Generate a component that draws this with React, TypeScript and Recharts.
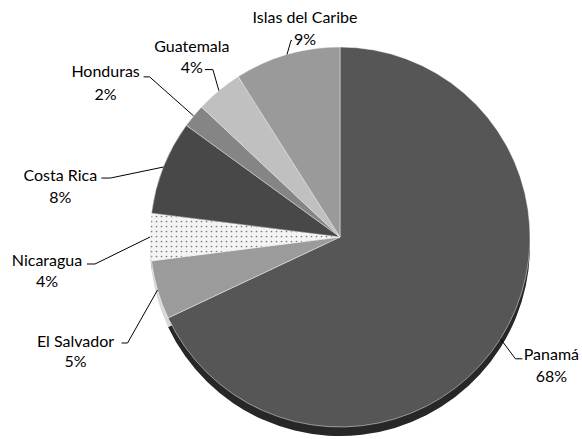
import React from 'react'
import { PieChart, Pie, Cell } from 'recharts'

// values (percent of total)
const countries = [
  'Panamá',
  'El Salvador',
  'Nicaragua',
  'Costa Rica',
  'Honduras',
  'Guatemala',
  'Islas del Caribe'
]
const shares = [68, 5, 4, 8, 2, 4, 9]

const fills = [
  '#565656',
  '#9b9b9b',
  'url(#dots)',
  '#484848',
  '#858585',
  '#c0c0c0',
  '#9a9a9a'
]
const sideFills = ['#272727', '#d8d8d8', '#bdbdbd', '#2a2a2a', '#555', '#888', '#666']

// leader line layout: elbow offset from slice edge, tail length, text offsets
const labelLayout: Record<string, { ex: number; ey: number; tl: number; tx: number; ny: number; py: number }> = {
  'Panamá': { ex: 15, ey: 20, tl: 7, tx: 29, ny: -5, py: 17 },
  'El Salvador': { ex: -30, ey: 53, tl: -6, tx: -46, ny: -3, py: 17 },
  'Nicaragua': { ex: -55, ey: 27, tl: -8, tx: -40, ny: -5, py: 16 },
  'Costa Rica': { ex: -53, ey: 11, tl: -9, tx: -41, ny: -4, py: 18 },
  'Honduras': { ex: -44, ey: -39, tl: -6, tx: -38, ny: -6, py: 17 },
  'Guatemala': { ex: -6, ey: -21, tl: -8, tx: -13, ny: -24, py: -3 },
  'Islas del Caribe': { ex: 4, ey: -14, tl: 1, tx: 13, ny: -24, py: -2 }
}

const data = countries.map((name, i) => ({ name, value: shares[i] }))

const RADIAN = Math.PI / 180
const FONT = 'Lato, "Open Sans", sans-serif'

const renderLabel = (props: any) => {
  const { cx, cy, midAngle, outerRadius, name, value } = props
  const lay = labelLayout[name]
  if (!lay) return null
  const sx = cx + outerRadius * Math.cos(-midAngle * RADIAN)
  const sy = cy + outerRadius * Math.sin(-midAngle * RADIAN)
  const mx = sx + lay.ex
  const my = sy + lay.ey
  const tx = mx + lay.tl
  return (
    <g>
      <polyline
        points={`${sx},${sy} ${mx},${my} ${tx},${my}`}
        fill='none'
        stroke='#000'
        strokeWidth={1}
      />
      <text
        x={tx + lay.tx}
        y={my + lay.ny}
        textAnchor='middle'
        dominantBaseline='central'
        fontFamily={FONT}
        fontSize={16}
        fill='#000'
      >
        {name}
      </text>
      <text
        x={tx + lay.tx}
        y={my + lay.py}
        textAnchor='middle'
        dominantBaseline='central'
        fontFamily={FONT}
        fontSize={16}
        fill='#000'
      >
        {`${value}%`}
      </text>
    </g>
  )
}

export default function App() {
  return (
    <div style={{ position: 'absolute', left: 0, top: 0, background: '#fff' }}>
      <PieChart width={582} height={439} margin={{ top: 0, right: 0, bottom: 0, left: 0 }}>
        <defs>
          <pattern id='dots' width='5' height='5' patternUnits='userSpaceOnUse'>
            <rect width='5' height='5' fill='#f4f4f4' />
            <circle cx='1.5' cy='1.5' r='0.85' fill='#7a7a7a' />
          </pattern>
        </defs>
        {/* side of the disc, shifted down */}
        <Pie
          data={data}
          dataKey='value'
          nameKey='name'
          cx={340}
          cy={246}
          outerRadius={190}
          startAngle={90}
          endAngle={-270}
          stroke='none'
          label={false}
          labelLine={false}
          isAnimationActive={false}
        >
          {data.map((d, i) => (
            <Cell key={d.name} fill={sideFills[i]} />
          ))}
        </Pie>
        <Pie
          data={data}
          dataKey='value'
          nameKey='name'
          cx={340}
          cy={237}
          outerRadius={190}
          startAngle={90}
          endAngle={-270}
          stroke='#ffffff'
          strokeOpacity={0.45}
          strokeWidth={1}
          label={renderLabel}
          labelLine={false}
          isAnimationActive={false}
        >
          {data.map((d, i) => (
            <Cell key={d.name} fill={fills[i]} />
          ))}
        </Pie>
      </PieChart>
    </div>
  )
}
